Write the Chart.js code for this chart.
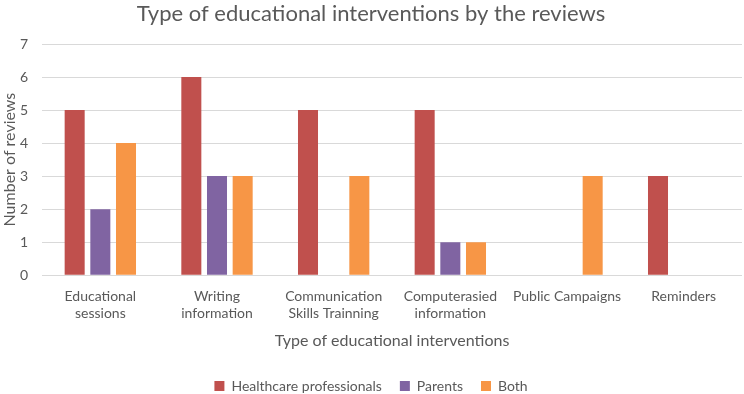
<!DOCTYPE html>
<html>
<head>
<meta charset="utf-8">
<script src="https://cdn.jsdelivr.net/npm/chart.js@4"></script>
<style>
html,body{margin:0;padding:0;background:#fff;}
#wrap{width:744px;height:394px;}
</style>
</head>
<body>
<div id="wrap"><canvas id="c" width="744" height="394"></canvas></div>
<script>
const categories = [
  ["Educational", "sessions"],
  ["Writing", "information"],
  ["Communication", "Skills Trainning"],
  ["Computerasied", "information"],
  ["Public Campaigns"],
  ["Reminders"]
];
const healthcareProfessionals = [5, 6, 5, 5, 0, 3];
const parents = [2, 3, 0, 1, 0, 0];
const both = [4, 3, 3, 1, 3, 0];
const yTicks = [0, 1, 2, 3, 4, 5, 6, 7];

const FONT = "Lato, 'Open Sans', sans-serif";
const TXT = "#595959";

new Chart(document.getElementById('c'), {
  type: 'bar',
  data: {
    labels: categories,
    datasets: [
      { label: 'Healthcare professionals', data: healthcareProfessionals, backgroundColor: '#C0504D' },
      { label: 'Parents', data: parents, backgroundColor: '#8064A2' },
      { label: 'Both', data: both, backgroundColor: '#F79646' }
    ]
  },
  options: {
    responsive: false,
    animation: false,
    devicePixelRatio: 1,
    layout: { padding: { left: 0, right: 2, top: 0, bottom: -9 } },
    datasets: { bar: { categoryPercentage: 0.66, barPercentage: 0.78 } },
    plugins: {
      title: {
        display: true,
        text: 'Type of educational interventions by the reviews',
        color: TXT,
        font: { family: FONT, size: 22, weight: 'normal' },
        padding: { top: 1, bottom: 16.6 }
      },
      legend: {
        position: 'bottom',
        labels: {
          color: TXT,
          font: { family: FONT, size: 14 },
          boxWidth: 10,
          boxHeight: 10,
          padding: 18
        }
      },
      tooltip: { enabled: false }
    },
    scales: {
      x: {
        grid: { display: false, drawTicks: false },
        border: { display: false },
        ticks: { color: TXT, font: { family: FONT, size: 14 }, maxRotation: 0, autoSkip: false, padding: 13 },
        title: { display: true, text: 'Type of educational interventions', color: TXT, font: { family: FONT, size: 16 }, padding: { top: -4, bottom: 11 } }
      },
      y: {
        min: 0, max: 7,
        afterBuildTicks: (axis) => { axis.ticks = yTicks.map(v => ({ value: v })); },
        afterFit: (axis) => { axis.width = 42; },
        grid: { color: '#D9D9D9', lineWidth: 1, drawTicks: false },
        border: { display: false },
        ticks: { color: TXT, font: { family: FONT, size: 14 }, padding: 14 },
        title: { display: true, text: 'Number of reviews', color: TXT, font: { family: FONT, size: 16 }, padding: { top: 0, bottom: 0 } }
      }
    }
  }
});
</script>
</body>
</html>
